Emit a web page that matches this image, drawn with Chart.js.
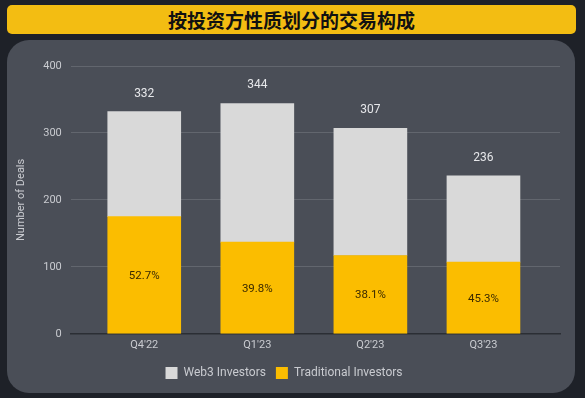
<!DOCTYPE html>
<html>
<head>
<meta charset="utf-8">
<script src="https://cdn.jsdelivr.net/npm/chart.js@4.4.1/dist/chart.umd.min.js"></script>
<style>
  html, body { margin: 0; padding: 0; }
  body { width: 585px; height: 398px; background: #1e2128; position: relative; overflow: hidden; font-family: Roboto, "Noto Sans", sans-serif; }
  #banner { position: absolute; left: 7px; top: 5px; width: 569px; height: 29px; background: #f3bd12; border-radius: 5px;
            text-align: center; font: bold 19px "Noto Sans CJK SC", sans-serif; line-height: 29px; color: #111; }
  #panel { position: absolute; left: 7px; top: 40px; width: 568px; height: 353px; background: #4a4e57; border-radius: 22px; }
  #c { position: absolute; left: 0; top: 0; }
</style>
</head>
<body>
<div id="banner">按投资方性质划分的交易构成</div>
<div id="panel"></div>
<canvas id="c" width="585" height="398"></canvas>
<script>
const categories = ["Q4'22", "Q1'23", "Q2'23", "Q3'23"];
const web3Investors = [157, 207, 190, 129];
const traditionalInvestors = [175, 137, 117, 107];
const yTicks = [0, 100, 200, 300, 400];

const totals = categories.map((_, i) => web3Investors[i] + traditionalInvestors[i]);

const labelPlugin = {
  id: 'barLabels',
  afterDatasetsDraw(chart) {
    const ctx = chart.ctx;
    const tradMeta = chart.getDatasetMeta(0);
    const webMeta = chart.getDatasetMeta(1);
    ctx.save();
    ctx.textAlign = 'center';
    ctx.textBaseline = 'middle';
    tradMeta.data.forEach((bar, i) => {
      const pct = (traditionalInvestors[i] / totals[i] * 100).toFixed(1) + '%';
      ctx.fillStyle = '#3a2a00';
      ctx.font = '11.5px Roboto, sans-serif';
      ctx.fillText(pct, bar.x, (bar.y + bar.base) / 2 + 1);
    });
    webMeta.data.forEach((bar, i) => {
      ctx.fillStyle = '#e6e7ea';
      ctx.font = '12px Roboto, sans-serif';
      ctx.fillText(String(totals[i]), bar.x, bar.y - 18);
    });
    ctx.restore();
  }
};

new Chart(document.getElementById('c'), {
  type: 'bar',
  data: {
    datasets: [
      { label: 'Traditional Investors', data: traditionalInvestors.map((v, i) => ({ x: i, y: v })),
        backgroundColor: '#fbbd00', barThickness: 73 },
      { label: 'Web3 Investors', data: web3Investors.map((v, i) => ({ x: i, y: v })),
        backgroundColor: '#d9d9d9', barThickness: 73 }
    ]
  },
  options: {
    responsive: false,
    animation: false,
    layout: { padding: { left: 8, right: 25, top: 66, bottom: 9 } },
    plugins: {
      tooltip: { enabled: false },
      legend: {
        position: 'bottom',
        reverse: true,
        labels: { color: '#c9cbd0', font: { size: 12, family: 'Roboto' }, boxWidth: 12, boxHeight: 12, padding: 10 }
      }
    },
    scales: {
      x: {
        type: 'linear', stacked: true, min: -0.65, max: 3.677, offset: false, bounds: 'data',
        afterBuildTicks: (scale) => { scale.ticks = categories.map((_, i) => ({ value: i })); },
        ticks: { color: '#c9cbd0', font: { size: 11, family: 'Roboto' }, padding: 5, autoSkip: false, maxRotation: 0,
                 callback: (v) => categories[v] },
        grid: { display: false, drawTicks: false },
        border: { display: true, color: '#2b2e34', width: 1.5 }
      },
      y: {
        stacked: true, min: 0, max: 400,
        afterBuildTicks: (scale) => { scale.ticks = yTicks.map(v => ({ value: v })); },
        ticks: { color: '#c9cbd0', font: { size: 11, family: 'Roboto' }, padding: 9 },
        grid: { color: '#62666e', drawTicks: false, lineWidth: 1 },
        border: { display: false },
        title: { display: true, text: 'Number of Deals', color: '#c9cbd0', font: { size: 11, family: 'Roboto' }, padding: { top: 7, bottom: 6 } }
      }
    }
  },
  plugins: [labelPlugin]
});
</script>
</body>
</html>
